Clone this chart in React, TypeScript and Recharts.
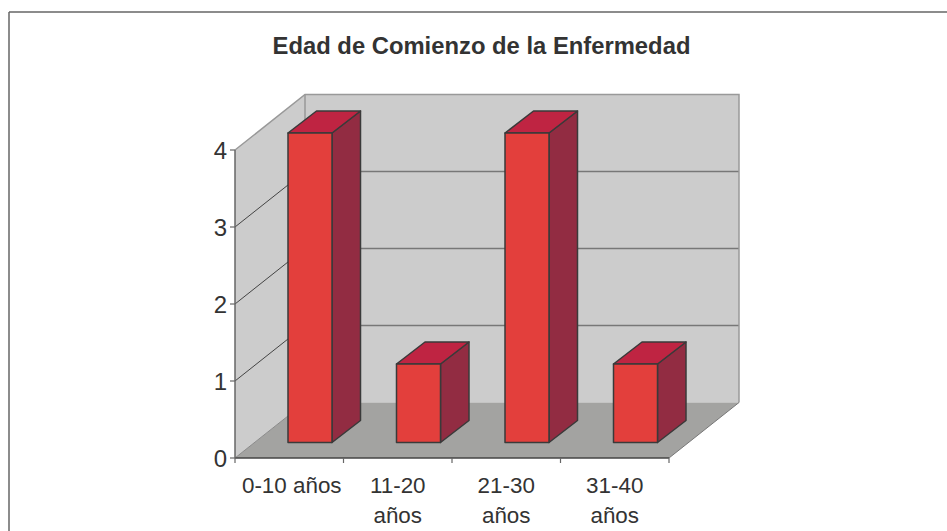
import React from "react"
import { Bar, BarChart, Customized, XAxis, YAxis, usePlotArea } from "recharts"

const categories = ["0-10 años", "11-20 años", "21-30 años", "31-40 años"]
const values = [4, 1, 4, 1]
const yTicks = [0, 1, 2, 3, 4]
const title = "Edad de Comienzo de la Enfermedad"

const data = categories.map((name, i) => ({ name, value: values[i] }))

const FONT = "'Liberation Sans', Arial, sans-serif"
const TEXT_COLOR = "#333333"
const WALL = "#cccccc"
const WALL_EDGE = "#999999"
const FLOOR = "#a3a3a1"

// depth of the box the bars stand in
const DEPTH_X = 70
const DEPTH_Y = 55.5

function Walls() {
  const plot = usePlotArea()
  if (!plot) return null
  const { x, y, width, height } = plot
  const bottom = y + height
  const right = x + width
  const yOf = (v: number) => bottom - (v / yTicks[yTicks.length - 1]) * height

  return (
    <g>
      <line x1={9} y1={12} x2={947} y2={12} stroke="#666" strokeWidth={1.5} />
      <line x1={9} y1={12} x2={9} y2={531} stroke="#666" strokeWidth={1.5} />
      <text x={481.5} y={54} textAnchor="middle" fontFamily={FONT} fontWeight="bold" fontSize={23.8} fill={TEXT_COLOR}>
        {title}
      </text>
      <polygon
        points={`${x},${bottom} ${x},${y} ${x + DEPTH_X},${y - DEPTH_Y} ${x + DEPTH_X},${bottom - DEPTH_Y}`}
        fill={WALL}
      />
      <rect x={x + DEPTH_X} y={y - DEPTH_Y} width={width} height={height} fill={WALL} />
      <polygon
        points={`${x},${bottom} ${right},${bottom} ${right + DEPTH_X},${bottom - DEPTH_Y} ${x + DEPTH_X},${bottom - DEPTH_Y}`}
        fill={FLOOR}
      />
      {yTicks.slice(1, -1).map((v) => (
        <g key={v}>
          <line x1={x} y1={yOf(v)} x2={x + DEPTH_X} y2={yOf(v) - DEPTH_Y} stroke="#444" strokeWidth={1} />
          <line x1={x + DEPTH_X} y1={yOf(v) - DEPTH_Y} x2={right + DEPTH_X} y2={yOf(v) - DEPTH_Y} stroke="#777" strokeWidth={1.6} />
        </g>
      ))}
      <polyline
        points={`${x},${y} ${x + DEPTH_X},${y - DEPTH_Y} ${right + DEPTH_X},${y - DEPTH_Y} ${right + DEPTH_X},${bottom - DEPTH_Y}`}
        fill="none"
        stroke={WALL_EDGE}
        strokeWidth={1.5}
      />
      <line x1={x + DEPTH_X} y1={y - DEPTH_Y} x2={x + DEPTH_X} y2={bottom - DEPTH_Y} stroke={WALL_EDGE} strokeWidth={1.5} />
      <line x1={x} y1={bottom} x2={x + DEPTH_X} y2={bottom - DEPTH_Y} stroke="#8a8a8a" strokeWidth={1} />
      <line x1={right} y1={bottom} x2={right + DEPTH_X} y2={bottom - DEPTH_Y} stroke="#777" strokeWidth={1} />
    </g>
  )
}

// 3D box: front face pushed into the floor, side and top going back
function Box3D(props: any) {
  const { x, y, width, height } = props
  const dx = 21
  const dy = -15.5
  const sideX = 28.5
  const sideY = 22
  const left = x + dx
  const right = left + width
  const top = y + dy - 1.5
  const bottom = y + dy + height
  const edge = { stroke: "#3a3a3a", strokeWidth: 1.5, strokeLinejoin: "round" as const }
  return (
    <g>
      <polygon
        points={`${right},${top} ${right + sideX},${top - sideY} ${right + sideX},${bottom - sideY} ${right},${bottom}`}
        fill="#922c42"
        {...edge}
      />
      <polygon
        points={`${left},${top} ${left + sideX},${top - sideY} ${right + sideX},${top - sideY} ${right},${top}`}
        fill="#bf2442"
        {...edge}
      />
      <rect x={left} y={top} width={width} height={bottom - top} fill="#e33f3c" {...edge} />
    </g>
  )
}

// ticks sit on the band edges, labels longer than the band wrap at the space
function CategoryTick(props: any) {
  const { x, y, payload, index } = props
  const band = 108.5
  const isLast = index === categories.length - 1
  const label: string = payload.value
  const lines = label.length > 9 ? label.split(" ") : [label]
  return (
    <g>
      <line x1={x - band / 2} y1={y - 8} x2={x - band / 2} y2={y - 3} stroke="#666" strokeWidth={1.2} />
      {isLast && <line x1={x + band / 2} y1={y - 8} x2={x + band / 2} y2={y - 3} stroke="#666" strokeWidth={1.2} />}
      <text
        x={x + (index === 0 ? 2.5 : 0)}
        y={y + 27}
        textAnchor="middle"
        fill={TEXT_COLOR}
        fontFamily={FONT}
        fontSize={22.4}
      >
        {lines.map((line, i) => (
          <tspan key={line} x={x + (index === 0 ? 2.5 : 0)} dy={i === 0 ? 0 : 30}>
            {line}
          </tspan>
        ))}
      </text>
    </g>
  )
}

export default function App() {
  return (
    <div style={{ position: "absolute", left: 0, top: 0, background: "#fff" }}>
      <BarChart
        width={947}
        height={531}
        data={data}
        barSize={44}
        margin={{ top: 150, left: 195, right: 278, bottom: 0 }}
      >
        <Customized component={Walls} />
        <XAxis
          dataKey="name"
          height={73}
          interval={0}
          tickLine={false}
          axisLine={{ stroke: "#444", strokeWidth: 1.5 }}
          tick={<CategoryTick />}
        />
        <YAxis
          width={40}
          domain={[0, 4]}
          ticks={yTicks}
          interval={0}
          tickSize={5}
          tickMargin={3}
          axisLine={{ stroke: "#666", strokeWidth: 1.5 }}
          tickLine={{ stroke: "#666", strokeWidth: 1.2 }}
          tick={{ fontFamily: FONT, fontSize: 24, fill: TEXT_COLOR }}
        />
        <Bar dataKey="value" isAnimationActive={false} shape={<Box3D />} />
      </BarChart>
    </div>
  )
}
